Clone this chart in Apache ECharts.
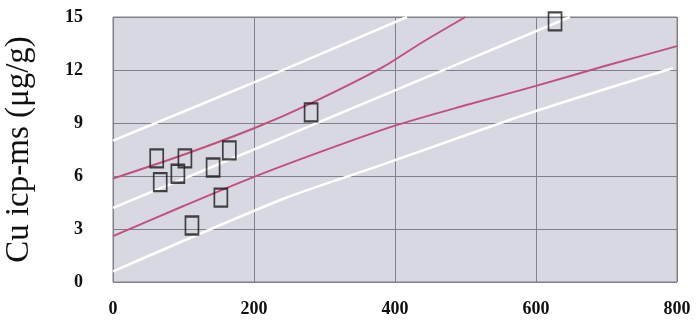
<!DOCTYPE html>
<html>
<head>
<meta charset="utf-8">
<script src="https://cdn.jsdelivr.net/npm/echarts@6/dist/echarts.min.js"></script>
<style>
  html, body { margin: 0; padding: 0; background: #fff; }
  #container { width: 699px; height: 324px; }
</style>
</head>
<body>
<div id="container"></div>
<script>
// measured points (x, Cu icp-ms)
var samples = [
    [62, 7.0], [67, 5.65], [102, 7.0], [92, 6.13], [112, 3.2],
    [142, 6.48], [153, 4.78], [165, 7.45], [281, 9.6], [627, 14.75]
];
// fitted line and bands
var fitLine = [[0, 4.2], [200, 7.5], [400, 10.85], [648, 15]];
var confUpper = [[0, 5.85], [100, 7.2], [200, 8.7], [280, 10.1], [380, 12.1], [440, 13.6], [500, 15]];
var confLower = [[0, 2.6], [100, 4.3], [200, 5.95], [300, 7.45], [400, 8.85], [500, 10.0], [600, 11.1], [700, 12.25], [800, 13.35]];
var predUpper = [[0, 8.0], [200, 11.3], [417, 15]];
var predLower = [[0, 0.6], [241, 4.7], [379, 6.6], [601, 9.69], [794, 12.1]];

var xTicks = [0, 200, 400, 600, 800];
var yTicks = [0, 3, 6, 9, 12, 15];

var myChart = echarts.init(document.getElementById('container'));

function band(data, color, width) {
    return {
        type: 'line',
        data: data,
        smooth: 0.25,
        symbol: 'none',
        lineStyle: { color: color, width: width },
        z: 2,
        silent: true
    };
}

var labelFont = {
    fontFamily: '"Liberation Serif", "DejaVu Serif", serif',
    fontWeight: 'bold',
    fontSize: 18,
    color: '#111'
};

myChart.setOption({
    animation: false,
    grid: {
        left: 113, right: 22, top: 17, bottom: 42,
        outerBoundsMode: 'none',
        show: true,
        backgroundColor: '#d8d8e3',
        borderColor: '#80808a',
        borderWidth: 1
    },
    xAxis: {
        type: 'value',
        min: xTicks[0],
        max: xTicks[xTicks.length - 1],
        interval: 200,
        axisLine: { show: false },
        axisTick: { show: false },
        axisLabel: Object.assign({ margin: 18 }, labelFont),
        splitLine: { show: true, lineStyle: { color: '#80808a', width: 1 } }
    },
    yAxis: {
        type: 'value',
        min: yTicks[0],
        max: yTicks[yTicks.length - 1],
        interval: 3,
        name: 'Cu icp-ms (μg/g)',
        nameLocation: 'middle',
        nameGap: 77,
        nameTextStyle: {
            fontFamily: '"Liberation Serif", "DejaVu Serif", serif',
            fontSize: 33,
            color: '#111'
        },
        axisLine: { show: false },
        axisTick: { show: false },
        axisLabel: Object.assign({ margin: 30 }, labelFont),
        splitLine: { show: true, lineStyle: { color: '#80808a', width: 1 } }
    },
    series: [
        band(predUpper, '#ffffff', 2.5),
        band(fitLine, '#ffffff', 2.5),
        band(predLower, '#ffffff', 2.5),
        band(confUpper, '#c2507f', 2),
        band(confLower, '#c2507f', 2),
        {
            type: 'scatter',
            data: samples,
            symbol: 'rect',
            symbolSize: [13, 18],
            itemStyle: { color: 'transparent', borderColor: '#1a1a1a', borderWidth: 2 },
            z: 5
        }
    ]
});
</script>
</body>
</html>
